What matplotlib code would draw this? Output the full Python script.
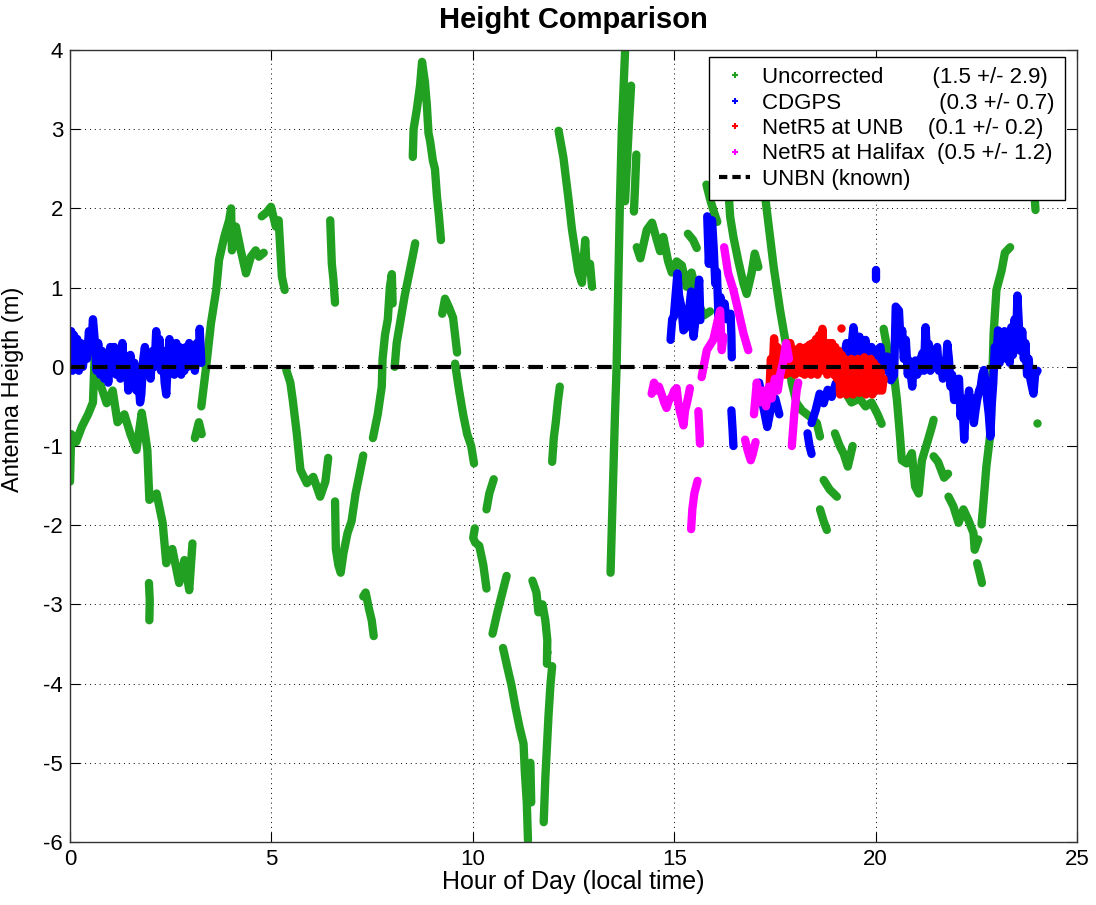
import matplotlib
matplotlib.use("Agg")
import matplotlib.pyplot as plt
from matplotlib.lines import Line2D

plt.rcParams['font.family'] = ['Liberation Sans', 'DejaVu Sans']
plt.rcParams['axes.unicode_minus'] = False

# ---------------- data (hour of day, height in m) ----------------
uncorrected_segments = [
    ([0.0, 0.03, 0.15, 0.3, 0.45, 0.57, 0.62, 0.7, 0.74, 0.91, 1.06, 1.18, 1.35, 1.5, 1.65, 1.78, 1.85, 1.92, 1.97, 2.15, 2.3, 2.39, 2.54, 2.71, 2.84, 2.96, 3.04],
     [-1.45, -0.85, -0.95, -0.75, -0.6, -0.45, 0.25, -0.1, -0.2, -0.46, -0.3, -0.7, -0.6, -0.85, -1.05, -0.58, -0.8, -1.05, -1.68, -1.6, -1.97, -2.48, -2.3, -2.73, -2.44, -2.82, -2.23]),
    ([1.96, 1.98, 1.97], [-2.73, -2.95, -3.2]),
    ([3.1, 3.2, 3.27], [-0.9, -0.7, -0.85]),
    ([3.26, 3.38, 3.5, 3.63, 3.7, 3.83, 3.95, 4.0, 4.02, 4.12, 4.24, 4.37, 4.49, 4.61, 4.69, 4.81],
     [-0.5, 0.0, 0.55, 0.97, 1.35, 1.64, 1.85, 2.0, 1.47, 1.77, 1.47, 1.18, 1.39, 1.47, 1.39, 1.44]),
    ([4.76, 4.88, 4.99, 5.11, 5.18, 5.26, 5.33], [1.9, 1.95, 2.02, 1.77, 1.85, 1.14, 0.97]),
    ([5.37, 5.47, 5.53, 5.63, 5.72, 5.88, 6.04, 6.21, 6.34, 6.41],
     [-0.04, -0.2, -0.42, -0.84, -1.3, -1.47, -1.39, -1.64, -1.45, -1.15]),
    ([6.46, 6.5, 6.54, 6.58], [1.85, 1.3, 1.1, 0.81]),
    ([6.58, 6.59, 6.6, 6.66, 6.72, 6.79, 6.89, 6.99, 7.09, 7.19, 7.28],
     [-1.7, -2.0, -2.3, -2.5, -2.6, -2.35, -2.1, -1.95, -1.6, -1.35, -1.12]),
    ([7.28, 7.34, 7.42, 7.49, 7.54], [-2.9, -2.85, -3.05, -3.2, -3.4]),
    ([7.52, 7.64, 7.74, 7.76, 7.82, 7.89, 7.94, 7.99, 8.01], [-0.9, -0.6, -0.25, 0.1, 0.4, 0.6, 1.0, 1.17, 0.8]),
    ([8.06, 8.11, 8.21, 8.31, 8.41, 8.51, 8.57], [0.0, 0.3, 0.6, 0.9, 1.15, 1.4, 1.56]),
    ([8.51, 8.53, 8.61, 8.69, 8.74, 8.81, 8.86, 8.9, 8.94, 9.01, 9.06, 9.11, 9.16, 9.21],
     [2.65, 3.0, 3.25, 3.55, 3.85, 3.6, 3.3, 2.95, 2.85, 2.6, 2.5, 2.15, 1.9, 1.6]),
    ([9.24, 9.31, 9.41, 9.51, 9.61], [0.67, 0.86, 0.75, 0.62, 0.18]),
    ([9.56, 9.66, 9.76, 9.86, 9.96, 10.03], [0.04, -0.3, -0.6, -0.85, -1.0, -1.22]),
    ([10.34, 10.41, 10.52], [-1.8, -1.6, -1.42]),
    ([10.05, 10.01, 10.06, 10.16, 10.26, 10.34], [-2.04, -2.16, -2.22, -2.26, -2.5, -2.8]),
    ([10.49, 10.61, 10.71, 10.84], [-3.37, -3.1, -2.9, -2.64]),
    ([10.75, 10.86, 10.96, 11.06, 11.16, 11.26, 11.29, 11.34, 11.37],
     [-3.55, -3.8, -4.02, -4.3, -4.55, -4.76, -5.1, -5.5, -5.98]),
    ([11.43, 11.45], [-5.0, -5.5]),
    ([11.48, 11.58, 11.63, 11.73, 11.8, 11.85, 11.84], [-2.7, -2.85, -3.1, -3.0, -3.2, -3.45, -3.75]),
    ([11.76, 11.8, 11.84, 11.88, 11.93, 11.97], [-5.75, -5.2, -4.8, -4.4, -4.0, -3.78]),
    ([11.97, 12.01, 12.06, 12.11, 12.16], [-1.2, -0.9, -0.7, -0.45, -0.25]),
    ([12.13, 12.25, 12.38, 12.46, 12.54, 12.62, 12.71, 12.79, 12.83, 12.91, 12.96],
     [2.98, 2.64, 2.1, 1.74, 1.47, 1.2, 1.06, 1.6, 1.2, 1.3, 1.01]),
    ([13.42, 13.48, 13.53, 13.57, 13.61, 13.65, 13.7, 13.78], [-2.6, -1.5, -0.6, 0.0, 1.0, 2.02, 3.0, 3.98]),
    ([13.78, 13.83, 13.88, 13.93], [2.09, 2.6, 3.1, 3.55]),
    ([14.06, 14.03, 14.0], [2.68, 2.3, 1.96]),
    ([14.07, 14.16, 14.32, 14.45, 14.57, 14.65, 14.73, 14.85, 14.94, 15.06, 15.19, 15.31, 15.43, 15.56, 15.64, 15.74, 15.89],
     [1.51, 1.37, 1.73, 1.82, 1.6, 1.46, 1.64, 1.33, 1.19, 1.33, 1.28, 1.01, 1.19, 0.92, 0.75, 0.65, 0.7]),
    ([15.34, 15.47, 15.56], [1.68, 1.6, 1.5]),
    ([15.8, 15.9, 15.99, 16.07], [2.3, 2.1, 1.95, 1.83]),
    ([16.35, 16.39, 16.47, 16.59, 16.72, 16.8, 16.92, 17.0, 17.09], [2.2, 1.89, 1.64, 1.34, 1.05, 0.92, 1.18, 1.43, 1.26]),
    ([17.2, 17.26, 17.47, 17.63, 17.8, 17.92, 18.04, 18.17, 18.37, 18.54, 18.62],
     [2.5, 2.14, 1.26, 0.71, 0.21, -0.21, -0.46, -0.55, -0.63, -0.71, -0.88]),
    ([18.99, 19.11, 19.21, 19.31, 19.43], [-0.84, -1.0, -1.1, -1.26, -1.0]),
    ([18.71, 18.86, 19.04], [-1.43, -1.55, -1.64]),
    ([18.62, 18.71, 18.79], [-1.8, -1.95, -2.06]),
    ([19.22, 19.4, 19.6, 19.75, 19.9, 20.05, 20.15], [-0.3, -0.45, -0.4, -0.5, -0.45, -0.6, -0.72]),
    ([20.2, 20.3, 20.45, 20.53, 20.6, 20.65, 20.77, 20.9, 20.98, 21.07, 21.15, 21.28, 21.4, 21.44],
     [0.48, 0.2, -0.08, -0.42, -0.84, -1.18, -1.22, -1.09, -1.51, -1.6, -1.18, -0.96, -0.75, -0.67]),
    ([21.44, 21.55, 21.7, 21.8], [-1.13, -1.2, -1.4, -1.35]),
    ([21.81, 21.93, 22.06, 22.18, 22.3, 22.43, 22.46, 22.55], [-1.64, -1.76, -1.97, -1.8, -1.93, -2.1, -2.31, -2.18]),
    ([22.52, 22.58, 22.64], [-2.48, -2.6, -2.73]),
    ([22.63, 22.67, 22.75, 22.85, 22.9, 22.93, 23.0, 23.13, 23.21, 23.34],
     [-1.99, -1.76, -1.26, -0.84, -0.08, 0.42, 0.97, 1.22, 1.44, 1.51]),
    ([23.95, 23.97], [2.13, 1.98]),
]
uncorrected_dots_x = [24.01, 11.84]
uncorrected_dots_y = [-0.71, -3.6]

cdgps_segments = [
    ([0.0, 0.03, 0.06, 0.1, 0.14, 0.18, 0.22, 0.27, 0.32, 0.37, 0.42, 0.47, 0.52, 0.57, 0.62, 0.66, 0.7, 0.75, 0.8, 0.85,
      0.9, 0.95, 1.0, 1.05, 1.1, 1.15, 1.2, 1.25, 1.3, 1.35, 1.4, 1.45, 1.5, 1.55, 1.6, 1.65, 1.7, 1.74, 1.77, 1.82,
      1.86, 1.9, 1.95, 2.0, 2.05, 2.1, 2.14, 2.18, 2.22, 2.26, 2.3, 2.35, 2.39, 2.43, 2.47, 2.51, 2.55, 2.59, 2.64, 2.68,
      2.72, 2.76, 2.8, 2.84, 2.88, 2.92, 2.96, 3.0, 3.05, 3.1, 3.15, 3.2, 3.22, 3.26],
     [0.1, 0.45, -0.05, 0.4, 0.05, 0.35, -0.05, 0.3, 0.0, 0.25, 0.1, 0.45, 0.2, 0.6, 0.3, -0.05, 0.3, -0.1, 0.2, -0.15,
      0.15, -0.2, 0.25, -0.05, 0.25, -0.1, 0.2, -0.15, 0.3, -0.1, 0.1, -0.3, 0.15, -0.2, 0.05, -0.3, -0.15, -0.45, -0.35, 0.1,
      0.25, -0.1, 0.15, -0.15, 0.2, 0.0, 0.45, 0.05, 0.35, -0.05, 0.2, -0.2, -0.35, 0.1, 0.35, -0.05, 0.2, -0.1, 0.3, 0.05,
      0.25, -0.1, 0.15, -0.05, 0.25, 0.0, 0.3, 0.05, 0.2, -0.05, 0.3, 0.1, 0.48, 0.05]),
    ([14.91, 14.95, 14.99, 15.05, 15.08, 15.12, 15.18, 15.23, 15.3, 15.36, 15.42, 15.48, 15.53, 15.57, 15.62, 15.65],
     [0.34, 0.6, 0.63, 1.0, 1.18, 0.9, 0.75, 0.46, 0.5, 0.67, 0.95, 0.38, 0.6, 0.76, 1.1, 0.59]),
    ([15.82, 15.86, 15.9, 15.94, 15.98, 16.02, 16.06, 16.1, 16.15, 16.22, 16.25, 16.3],
     [1.9, 1.3, 1.7, 1.85, 1.5, 1.05, 1.2, 0.63, 0.88, 0.63, 0.8, 0.6]),
    ([16.4, 16.42, 16.43], [0.67, 0.4, 0.12]),
    ([16.42, 16.45, 16.47], [-0.55, -0.8, -1.0]),
    ([17.11, 17.21, 17.31, 17.41, 17.51, 17.61], [-0.2, -0.5, -0.76, -0.5, -0.4, -0.6]),
    ([18.31, 18.36, 18.41], [-0.84, -1.0, -1.1]),
    ([18.41, 18.51, 18.61, 18.71, 18.81, 18.91, 19.01, 19.11, 19.2],
     [-0.71, -0.55, -0.34, -0.46, -0.29, -0.38, -0.21, -0.17, 0.1]),
    ([19.2, 19.28, 19.36, 19.45, 19.53, 19.6, 19.68, 19.75, 19.82, 19.9, 19.96, 20.02, 20.12, 20.2, 20.29, 20.38, 20.46,
      20.5, 20.58, 20.62, 20.66, 20.7, 20.75, 20.8, 20.83, 20.91, 20.95, 20.99, 21.03, 21.08, 21.12, 21.16, 21.2, 21.24,
      21.28, 21.32, 21.36, 21.41, 21.47, 21.53, 21.57, 21.61, 21.67, 21.74, 21.78, 21.82, 21.86, 21.9, 21.95, 21.99,
      22.03, 22.07, 22.11, 22.15, 22.2, 22.24, 22.28, 22.32, 22.36, 22.4, 22.44, 22.48, 22.52, 22.57, 22.61, 22.65,
      22.69, 22.73, 22.77, 22.81, 22.85, 22.88, 22.92, 22.96, 23.0, 23.04, 23.08, 23.12, 23.16, 23.2, 23.25, 23.29,
      23.33, 23.37, 23.41, 23.45, 23.49, 23.52, 23.56, 23.6, 23.64, 23.68, 23.72, 23.76, 23.8, 23.84, 23.88, 23.92,
      23.96, 24.02],
     [0.1, 0.3, 0.05, 0.5, 0.17, 0.38, 0.1, 0.34, -0.05, 0.25, -0.25, 0.2, 0.25, -0.05, 0.13, -0.17, -0.1,
      0.76, 0.71, 0.3, 0.46, 0.1, 0.34, -0.1, 0.08, -0.25, 0.05, 0.08, -0.1, -0.04, 0.1, 0.17, -0.05, 0.5,
      0.15, 0.29, -0.05, 0.0, 0.2, 0.25, -0.05, 0.08, -0.15, -0.04, 0.29, 0.1, -0.25, -0.1, -0.42, -0.2,
      -0.29, -0.15, -0.63, -0.4, -0.92, -0.5, -0.46, -0.3, -0.59, -0.4, -0.71, -0.55, -0.42, -0.3, -0.25, -0.1,
      -0.04, -0.2, -0.42, -0.6, -0.88, -0.5, -0.21, 0.25, 0.1, 0.46, 0.05, 0.4, 0.25, 0.45, 0.1, 0.38,
      0.05, 0.5, 0.15, 0.6, 0.3, 0.9, 0.5, 0.2, 0.45, 0.1, 0.3, -0.1, 0.1, -0.15, -0.25, -0.34,
      -0.1, -0.05]),
    ([20.02, 20.02], [1.11, 1.22]),
]

netr5_unb_segments = [
    ([17.36, 17.4, 17.44, 17.48, 17.52, 17.56, 17.6, 17.64, 17.68, 17.72, 17.76, 17.8, 17.84, 17.88, 17.92, 17.96,
      18.0, 18.04, 18.08, 18.12, 18.16, 18.2, 18.24, 18.28, 18.32, 18.36, 18.4, 18.44, 18.48, 18.52, 18.56, 18.6,
      18.64, 18.68, 18.72, 18.76, 18.8, 18.84, 18.88, 18.92, 18.96, 19.0, 19.04, 19.08],
     [-0.35, 0.1, -0.1, 0.36, -0.08, 0.25, -0.1, 0.2, -0.05, 0.22, -0.1, 0.25, -0.08, 0.3, -0.05, 0.2,
      -0.1, 0.22, -0.05, 0.25, -0.08, 0.2, -0.1, 0.25, -0.05, 0.28, -0.1, 0.3, -0.05, 0.35, -0.1, 0.4,
      0.0, 0.48, -0.05, 0.3, -0.1, 0.3, -0.05, 0.3, -0.1, 0.25, -0.15, 0.2]),
    ([19.08, 19.12, 19.16, 19.2, 19.24, 19.28, 19.32, 19.36, 19.4, 19.44, 19.48, 19.52, 19.56, 19.6, 19.64, 19.68,
      19.72, 19.76, 19.8, 19.84, 19.88, 19.92, 19.96, 20.0, 20.04, 20.08, 20.12, 20.16, 20.2],
     [0.2, -0.35, 0.15, -0.3, 0.1, -0.35, 0.05, -0.3, 0.1, -0.35, 0.0, -0.3, 0.1, -0.33, 0.05, -0.3,
      0.12, -0.35, 0.0, -0.3, 0.1, -0.35, 0.05, -0.3, 0.0, -0.3, -0.05, -0.3, -0.15]),
]
netr5_unb_dots_x = [19.15]
netr5_unb_dots_y = [0.49]

netr5_halifax_segments = [
    ([14.44, 14.5, 14.56, 14.62, 14.69, 14.75, 14.81, 14.87, 14.94, 15.0, 15.06, 15.1, 15.14, 15.19, 15.23, 15.27, 15.31, 15.36, 15.39],
     [-0.34, -0.2, -0.3, -0.25, -0.35, -0.45, -0.52, -0.42, -0.38, -0.3, -0.27, -0.45, -0.56, -0.65, -0.74, -0.55, -0.47, -0.35, -0.27]),
    ([15.6, 15.62, 15.64], [-0.56, -0.75, -0.97]),
    ([15.42, 15.45, 15.5, 15.58], [-2.05, -1.8, -1.6, -1.44]),
    ([15.68, 15.81, 15.97, 16.1, 16.14, 16.18, 16.22], [-0.13, 0.21, 0.34, 0.63, 0.71, 0.21, 0.38]),
    ([16.24, 16.34, 16.47, 16.59, 16.72, 16.84], [1.51, 1.18, 0.97, 0.71, 0.42, 0.21]),
    ([16.76, 16.82, 16.9, 16.95, 17.02], [-0.92, -1.05, -1.18, -1.1, -0.95]),
    ([16.98, 17.05, 17.12, 17.2, 17.28, 17.35, 17.42, 17.5, 17.57, 17.63, 17.7, 17.78, 17.85],
     [-0.6, -0.2, -0.45, -0.3, -0.5, -0.25, -0.4, -0.15, -0.3, -0.1, 0.05, 0.3, 0.1]),
    ([17.92, 17.98, 18.04, 18.08], [-1.0, -0.6, -0.3, -0.2]),
]

known_x = [0.0, 24.0]
known_y = [0.0, 0.0]

x_ticks = [0, 5, 10, 15, 20, 25]
y_ticks = [-6, -5, -4, -3, -2, -1, 0, 1, 2, 3, 4]

legend_labels = [
    "Uncorrected        (1.5 +/- 2.9)",
    "CDGPS                (0.3 +/- 0.7)",
    "NetR5 at UNB    (0.1 +/- 0.2)",
    "NetR5 at Halifax  (0.5 +/- 1.2)",
    "UNBN (known)",
]

# ---------------- styling ----------------
GREEN = '#22a022'
BLUE = '#0000ff'
RED = '#ff0000'
MAGENTA = '#ff00ff'
LW = 6.0

fig = plt.figure(figsize=(10.96, 9.05), dpi=100)
ax = fig.add_axes([70 / 1096, 63 / 905, 1007 / 1096, 792 / 905])

for xs, ys in uncorrected_segments:
    ax.plot(xs, ys, color=GREEN, lw=LW, solid_joinstyle='round', solid_capstyle='round')
ax.plot(uncorrected_dots_x, uncorrected_dots_y, ls='none', marker='o', ms=5, color=GREEN)

for xs, ys in cdgps_segments:
    ax.plot(xs, ys, color=BLUE, lw=LW, solid_joinstyle='round', solid_capstyle='round')

for xs, ys in netr5_unb_segments:
    ax.plot(xs, ys, color=RED, lw=LW, solid_joinstyle='round', solid_capstyle='round')
ax.plot(netr5_unb_dots_x, netr5_unb_dots_y, ls='none', marker='o', ms=5, color=RED)

for xs, ys in netr5_halifax_segments:
    ax.plot(xs, ys, color=MAGENTA, lw=LW, solid_joinstyle='round', solid_capstyle='round')

ax.plot(known_x, known_y, color='black', lw=3, dashes=(3.5, 2))

ax.set_xlim(0, 25)
ax.set_ylim(-6, 4)
ax.set_xticks(x_ticks)
ax.set_yticks(y_ticks)
ax.grid(True, color='black', linestyle=(0, (1, 4)), linewidth=0.7)
ax.tick_params(direction='in', length=7, width=0.8, top=True, right=True, labelsize=16, pad=5)
for sp in ax.spines.values():
    sp.set_linewidth(1.0)
    sp.set_color('#333333')

ax.set_title("Height Comparison", fontsize=21, fontweight='bold', pad=16)
ax.set_xlabel("Hour of Day (local time)", fontsize=18, labelpad=0)
ax.set_ylabel("Antenna Heigth (m)", fontsize=17)
ax.yaxis.set_label_coords(-0.046, 0.571)

handles = [
    Line2D([], [], ls='none', marker='+', ms=5, mew=1.5, color=GREEN),
    Line2D([], [], ls='none', marker='+', ms=5, mew=1.5, color=BLUE),
    Line2D([], [], ls='none', marker='+', ms=5, mew=1.5, color=RED),
    Line2D([], [], ls='none', marker='+', ms=5, mew=1.5, color=MAGENTA),
    Line2D([], [], color='black', lw=3, dashes=(2, 1.2)),
]
leg = ax.legend(handles, legend_labels, loc='upper right', bbox_to_anchor=(0.988, 0.991),
                fontsize=16, frameon=True, fancybox=False, framealpha=1,
                edgecolor='black', borderpad=0.45, labelspacing=0.2, handlelength=1.4,
                handletextpad=0.55, borderaxespad=0.0)
leg.get_frame().set_linewidth(1.0)

fig.savefig("out.png", dpi=100)
